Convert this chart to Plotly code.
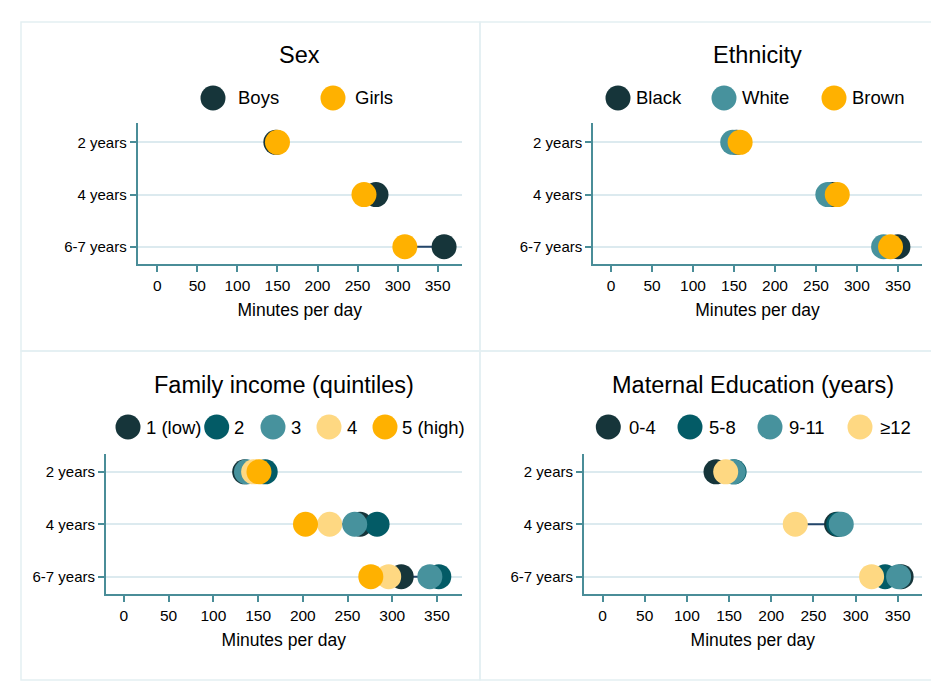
import plotly.graph_objects as go

W, H = 931, 680   # page body has an 8px margin inside the 939x688 window
OFF = 8

ages = ["2 years", "4 years", "6-7 years"]
x_ticks = [0, 50, 100, 150, 200, 250, 300, 350]

# Sex
sex_labels = ["Boys", "Girls"]
boys = [148, 273, 358]
girls = [150, 258, 309]

# Ethnicity
eth_labels = ["Black", "White", "Brown"]
black = [153, 270, 350]
white = [148.5, 264.5, 332.5]
brown = [157.5, 276, 341]

# Family income (quintiles)
inc_labels = ["1 (low)", "2", "3", "4", "5 (high)"]
inc_q1 = [135, 264, 310]
inc_q2 = [158, 283, 352]
inc_q3 = [137, 258, 342]
inc_q4 = [145, 230, 296]
inc_q5 = [151, 203, 276]

# Maternal education (years)
edu_labels = ["0-4", "5-8", "9-11", "≥12"]
edu_04 = [134.5, 277.5, 354]
edu_58 = [156, 280, 335]
edu_911 = [155, 283, 351]
edu_12 = [146, 228.5, 319]

C_DARK = "#16353a"
C_DTEAL = "#035b66"
C_TEAL = "#47929d"
C_LYEL = "#fed882"
C_ORANGE = "#ffb100"
LINE_C = "#24466a"
AXIS_C = "#4a8d98"
GRID_C = "#dceaef"
FONT = "Liberation Sans"

panels = [
    dict(title="Sex", labels=sex_labels, series=[boys, girls],
         colors=[C_DARK, C_ORANGE],
         box=(137.7, 461.7, 123, 264), xr=[-24.5, 380], yr=[2.33, -0.37],
         title_y=55, leg_y=98,
         leg=[(213, 236), (333, 353)]),
    dict(title="Ethnicity", labels=eth_labels, series=[black, white, brown],
         colors=[C_DARK, C_TEAL, C_ORANGE],
         box=(593.3, 921.7, 123, 264), xr=[-21.6, 379], yr=[2.33, -0.37],
         title_y=55, leg_y=98,
         leg=[(618, 634), (724, 740), (834, 850)]),
    dict(title="Family income (quintiles)", labels=inc_labels,
         series=[inc_q1, inc_q2, inc_q3, inc_q4, inc_q5],
         colors=[C_DARK, C_DTEAL, C_TEAL, C_LYEL, C_ORANGE],
         box=(106, 461.7, 454, 594), xr=[-20, 377.6], yr=[2.33, -0.34],
         title_y=385, leg_y=427,
         leg=[(128, 144), (216.7, 232), (273, 289), (329, 345), (385, 400)]),
    dict(title="Maternal Education (years)", labels=edu_labels,
         series=[edu_04, edu_58, edu_911, edu_12],
         colors=[C_DARK, C_DTEAL, C_TEAL, C_LYEL],
         box=(584, 921.7, 454, 594), xr=[-22, 378.4], yr=[2.33, -0.34],
         title_y=385, leg_y=427,
         leg=[(608.3, 627), (690, 707), (770, 787), (860, 878)]),
]

def px(x):
    return (x - OFF) / W

def py(y):
    return 1 - (y - OFF) / H

fig = go.Figure()
shapes = []
annotations = []

for i, p in enumerate(panels, start=1):
    xa = "x" if i == 1 else f"x{i}"
    ya = "y" if i == 1 else f"y{i}"
    x0, x1, y0, y1 = p["box"]
    # min-max connecting lines
    for r, age in enumerate(ages):
        vals = [s[r] for s in p["series"]]
        fig.add_trace(go.Scatter(
            x=[min(vals), max(vals)], y=[age, age], mode="lines",
            line=dict(color=LINE_C, width=2), xaxis=xa, yaxis=ya,
            showlegend=False, hoverinfo="skip"))
    for lab, s, c in zip(p["labels"], p["series"], p["colors"]):
        fig.add_trace(go.Scatter(
            x=s, y=ages, mode="markers", name=lab,
            marker=dict(color=c, size=25, line=dict(width=0)),
            xaxis=xa, yaxis=ya, showlegend=False))
    axx = dict(domain=[px(x0), px(x1)], range=p["xr"], tickvals=x_ticks,
               showgrid=False, zeroline=False, showline=True,
               linecolor=AXIS_C, linewidth=2, ticks="outside", ticklen=6,
               tickwidth=1.5, tickcolor=AXIS_C, anchor=ya,
               tickfont=dict(family=FONT, size=15.5, color="#000"),
               title=dict(text="Minutes per day", standoff=11,
                          font=dict(family=FONT, size=17.5, color="#000")))
    axy = dict(domain=[py(y1), py(y0)], range=p["yr"], type="category",
               categoryorder="array", categoryarray=ages,
               showgrid=True, gridcolor=GRID_C, gridwidth=1.5,
               zeroline=False, showline=True, linecolor=AXIS_C, linewidth=2,
               ticks="outside", ticklen=6, tickwidth=1.5, tickcolor=AXIS_C,
               anchor=xa, tickfont=dict(family=FONT, size=15, color="#000"))
    fig.update_layout(**{("xaxis" if i == 1 else f"xaxis{i}"): axx,
                         ("yaxis" if i == 1 else f"yaxis{i}"): axy})
    # title
    annotations.append(dict(text=p["title"], x=px((x0 + x1) / 2), y=py(p["title_y"]),
                            xref="paper", yref="paper", showarrow=False,
                            xanchor="center", yanchor="middle",
                            font=dict(family=FONT, size=23.5, color="#000")))
    # legend
    r = 12.5
    for (mx, tx), lab, c in zip(p["leg"], p["labels"], p["colors"]):
        shapes.append(dict(type="circle", xref="paper", yref="paper",
                           x0=px(mx - r), x1=px(mx + r),
                           y0=py(p["leg_y"] + r), y1=py(p["leg_y"] - r),
                           fillcolor=c, line=dict(width=0)))
        annotations.append(dict(text=lab, x=px(tx), y=py(p["leg_y"]),
                                xref="paper", yref="paper", showarrow=False,
                                xanchor="left", yanchor="middle",
                                font=dict(family=FONT, size=18.5, color="#000")))

# panel frames
BORDER = "#e4eff2"
for (a, b, c, d) in [(21, 480, 22, 351), (480, 950, 22, 351),
                     (21, 480, 351, 680), (480, 950, 351, 680)]:
    shapes.append(dict(type="rect", xref="paper", yref="paper",
                       x0=px(a), x1=px(b), y0=py(d), y1=py(c),
                       line=dict(color=BORDER, width=1.5), layer="below"))

fig.update_layout(width=W, height=H, margin=dict(l=0, r=0, t=0, b=0),
                  paper_bgcolor="white", plot_bgcolor="white",
                  shapes=shapes, annotations=annotations, showlegend=False)

fig.write_html("out.html")
